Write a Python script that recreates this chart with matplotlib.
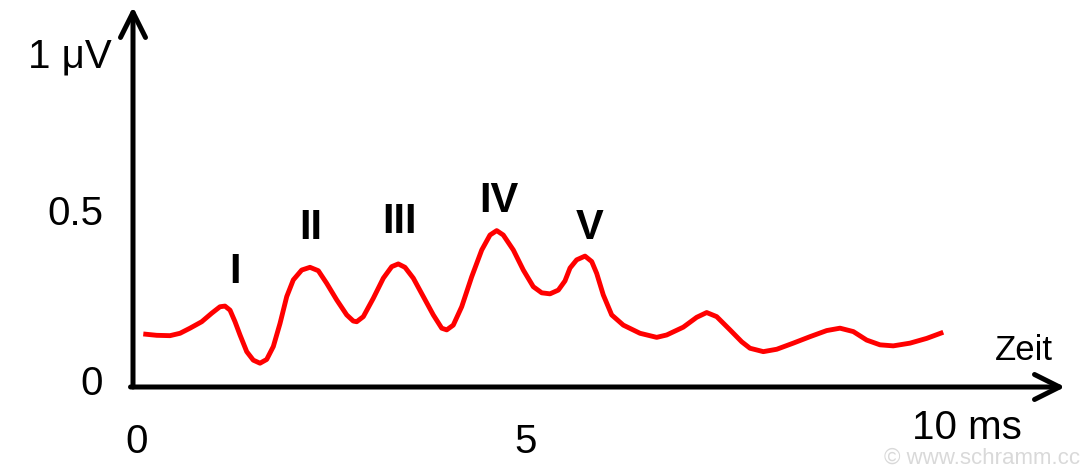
import matplotlib
matplotlib.use('Agg')
import matplotlib.pyplot as plt

plt.rcParams['font.family'] = ['Liberation Sans', 'DejaVu Sans']

# time in ms, amplitude in microvolt
zeit = [0.132, 0.304, 0.474, 0.603, 0.731, 0.881, 1.009, 1.115, 1.179, 1.244,
        1.308, 1.372, 1.458, 1.542, 1.628, 1.714, 1.799, 1.885, 1.971, 2.055,
        2.163, 2.269, 2.376, 2.483, 2.612, 2.740, 2.824, 2.868, 2.953, 3.081,
        3.209, 3.317, 3.401, 3.487, 3.594, 3.722, 3.850, 3.958, 4.022, 4.106,
        4.214, 4.342, 4.471, 4.577, 4.663, 4.747, 4.876, 5.004, 5.132, 5.240,
        5.346, 5.453, 5.538, 5.603, 5.688, 5.795, 5.881, 5.945, 6.029, 6.137,
        6.286, 6.5, 6.714, 6.842, 7.055, 7.227, 7.355, 7.483, 7.654, 7.804,
        7.910, 8.081, 8.253, 8.465, 8.679, 8.894, 9.064, 9.235, 9.406, 9.577,
        9.747, 9.962, 10.176, 10.388]
spannung = [0.156, 0.152, 0.151, 0.158, 0.173, 0.192, 0.217, 0.236, 0.238, 0.226,
            0.192, 0.153, 0.104, 0.079, 0.070, 0.081, 0.119, 0.187, 0.266, 0.315,
            0.344, 0.352, 0.342, 0.305, 0.256, 0.212, 0.194, 0.192, 0.207, 0.261,
            0.320, 0.354, 0.362, 0.352, 0.320, 0.266, 0.212, 0.173, 0.168, 0.182,
            0.236, 0.324, 0.403, 0.447, 0.460, 0.447, 0.403, 0.344, 0.295, 0.277,
            0.274, 0.285, 0.312, 0.350, 0.374, 0.385, 0.369, 0.334, 0.271, 0.212,
            0.182, 0.158, 0.146, 0.153, 0.176, 0.205, 0.219, 0.207, 0.168, 0.133,
            0.114, 0.104, 0.111, 0.129, 0.148, 0.166, 0.173, 0.163, 0.138, 0.124,
            0.121, 0.129, 0.143, 0.161]

wellen = ['I', 'II', 'III', 'IV', 'V']
wellen_x = [1.308, 2.282, 3.423, 4.692, 5.859]
wellen_y = [0.306, 0.435, 0.453, 0.515, 0.435]

fig = plt.figure(figsize=(10.89, 4.7), dpi=100)
ax = fig.add_axes([0, 0, 1, 1])
ax.set_xlim(-133 / 78, (1089 - 133) / 78)
ax.set_ylim((387 - 470) / 340, 387 / 340)
ax.axis('off')

# axes with open arrow heads
pfeil = dict(arrowstyle='->,head_length=0.9,head_width=0.45', lw=3.6,
             color='black', mutation_scale=20, shrinkA=0, shrinkB=0)
ax.annotate('', xy=(0, 1.118), xytext=(0, 0), arrowprops=pfeil)
ax.annotate('', xy=(11.95, 0), xytext=(-0.032, 0), arrowprops=pfeil)

ax.plot(zeit, spannung, color='#ff0000', lw=3.5, solid_joinstyle='round',
        solid_capstyle='butt')

for name, x, y in zip(wellen, wellen_x, wellen_y):
    ax.text(x, y, name, ha='center', va='baseline', fontsize=30, fontweight='bold')

ax.text(-0.27, 0.941, '1 \u03bcV', ha='right', va='baseline', fontsize=29)
ax.text(-0.385, 0.476, '0.5', ha='right', va='baseline', fontsize=29)
ax.text(-0.385, -0.0235, '0', ha='right', va='baseline', fontsize=29)

ax.text(0.051, -0.194, '0', ha='center', va='baseline', fontsize=29)
ax.text(5.038, -0.194, '5', ha='center', va='baseline', fontsize=29)
ax.text(9.987, -0.152, '10 ms', ha='left', va='baseline', fontsize=29)
ax.text(11.795, 0.079, 'Zeit', ha='right', va='baseline', fontsize=25)

ax.text(12.14, -0.226, '\u00a9 www.schramm.cc', ha='right', va='baseline',
        fontsize=16, color='#d9d9d9')

fig.savefig('out.png', dpi=100)
